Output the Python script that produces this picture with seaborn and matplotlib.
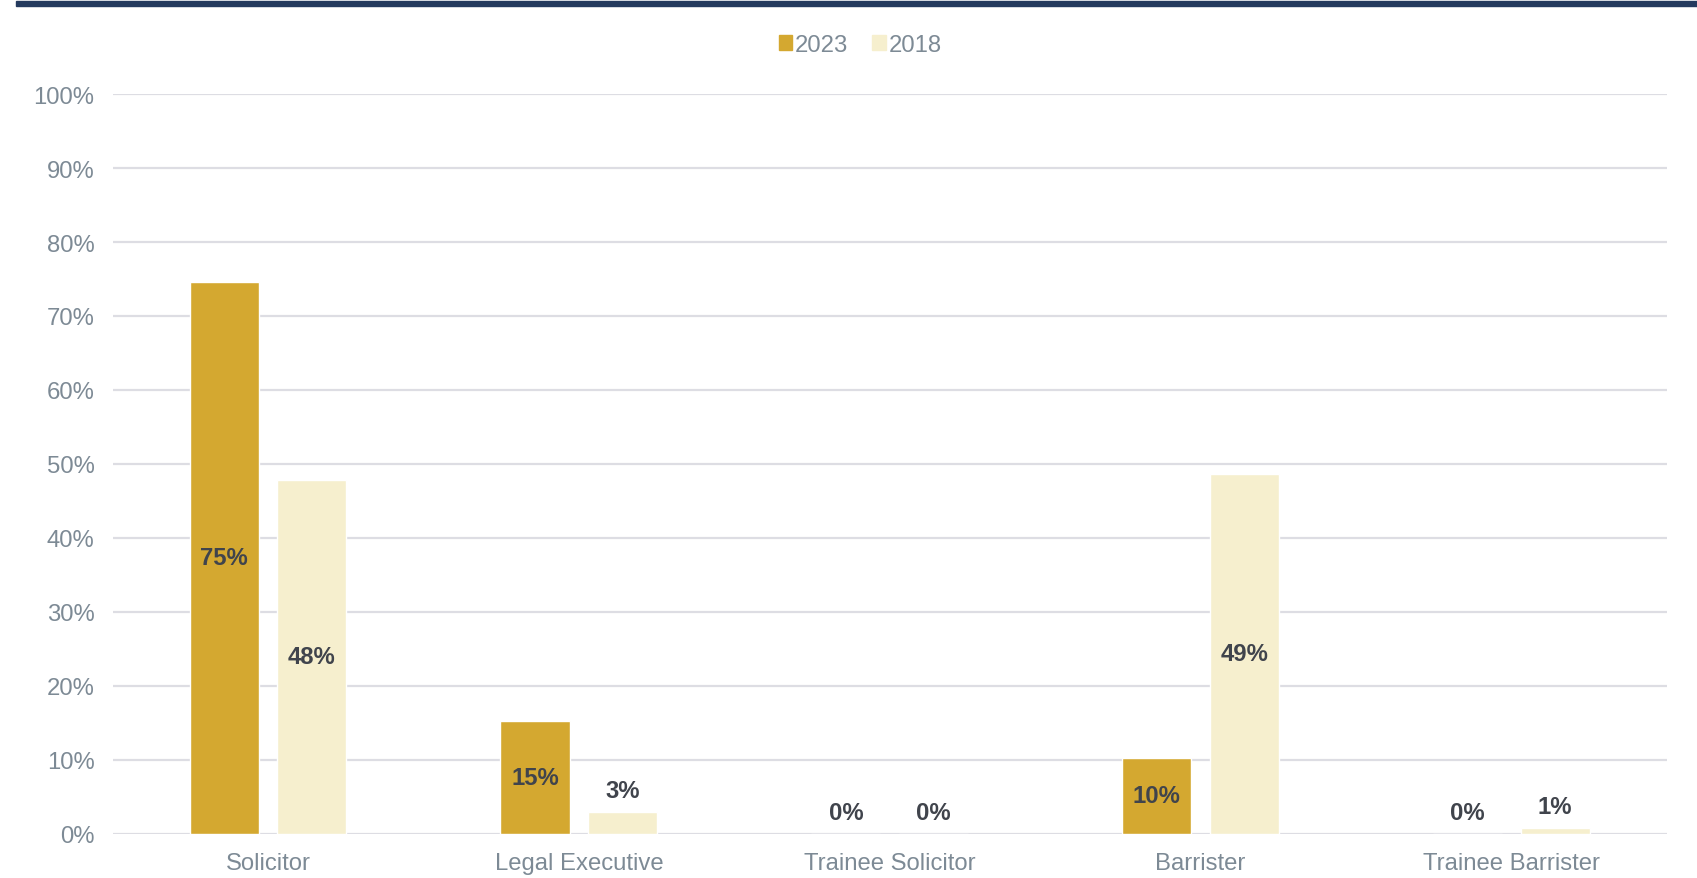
import matplotlib
matplotlib.use("Agg")
import matplotlib.pyplot as plt
import seaborn as sns
import pandas as pd
from matplotlib.patches import Rectangle

categories = ["Solicitor", "Legal Executive", "Trainee Solicitor", "Barrister", "Trainee Barrister"]
series_names = ["2023", "2018"]
values_2023 = [74.6, 15.2, 0.0, 10.2, 0.0]
values_2018 = [47.8, 2.95, 0.0, 48.6, 0.7]
labels_2023 = ["75%", "15%", "0%", "10%", "0%"]
labels_2018 = ["48%", "3%", "0%", "49%", "1%"]
yticks = [0, 10, 20, 30, 40, 50, 60, 70, 80, 90, 100]
ytick_labels = [f"{t}%" for t in yticks]

colors = {"2023": "#D4A830", "2018": "#F6EFCE"}

df = pd.DataFrame({
    "category": categories * 2,
    "year": ["2023"] * len(categories) + ["2018"] * len(categories),
    "value": values_2023 + values_2018,
})

sns.set_theme(style="white")
plt.rcParams["font.family"] = ["Liberation Sans", "DejaVu Sans"]

W, H = 1697, 879
fig = plt.figure(figsize=(W / 100, H / 100), dpi=100)
ax = fig.add_axes([112.6 / W, 1 - 834.5 / H, (1666.8 - 112.6) / W, (834.5 - 95.2) / H])

sns.barplot(data=df, x="category", y="value", hue="year", hue_order=series_names,
            order=categories, palette=colors, width=0.564, gap=0.21, ax=ax,
            saturation=1, legend=False, errorbar=None)

ax.set_xlim(-0.5, len(categories) - 0.5)
ax.set_ylim(0, 100)
ax.set_yticks(yticks)
ax.set_yticklabels(ytick_labels)
ax.set_xlabel("")
ax.set_ylabel("")
for s in ax.spines.values():
    s.set_visible(False)
ax.yaxis.grid(True, color="#DDDDE3", linewidth=1.6)
ax.set_axisbelow(True)
ax.tick_params(axis="both", length=0, labelsize=17.2, labelcolor="#7D8A95")
ax.tick_params(axis="y", pad=13)
ax.tick_params(axis="x", pad=13)

label_sets = [labels_2023, labels_2018]
for cont, labs in zip(ax.containers, label_sets):
    for bar, lab in zip(cont, labs):
        v = bar.get_height()
        xc = bar.get_x() + bar.get_width() / 2
        y = v / 2 if v >= 6 else v + 2.9
        ax.text(xc, y, lab, ha="center", va="center", fontsize=17.2,
                fontweight="bold", color="#40444C")

# legend
handles = [Rectangle((0, 0), 1, 1, color=colors[n]) for n in series_names]
fig.legend(handles, series_names, loc="center", bbox_to_anchor=(0.507, 1 - 46 / H),
           ncol=2, frameon=False, fontsize=17.2, labelcolor="#7D8A95",
           handlelength=0.55, handleheight=0.55, handletextpad=0.12,
           columnspacing=1.0)

# top band
fig.patches.append(Rectangle((16 / W, 1 - 7 / H), 1 - 16 / W, 5 / H,
                             transform=fig.transFigure, color="#243A5E", zorder=5))

fig.savefig("out.png", dpi=100)
